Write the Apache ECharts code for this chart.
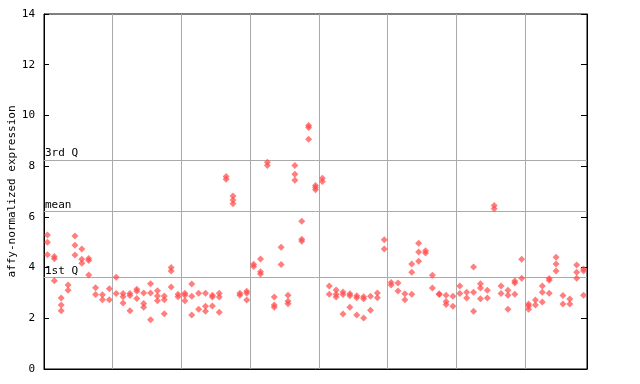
<!DOCTYPE html>
<html>
<head>
<meta charset="utf-8">
<script src="https://cdn.jsdelivr.net/npm/echarts@6/dist/echarts.min.js"></script>
<style>html,body{margin:0;padding:0;background:#fff}#c{width:640px;height:384px}</style>
</head>
<body>
<div id="c"></div>
<script>
// Expression values per sample (x position = sample index)
const expression = [
  [5.28, 5.00, 4.51], [4.44, 4.35, 3.48], [2.80, 2.52, 2.30], [3.31, 3.11], [5.25, 4.88, 4.50],
  [4.73, 4.33, 4.17], [4.36, 4.28, 3.71], [3.20, 2.94], [2.93, 2.73], [3.16, 2.73],
  [3.62, 2.98], [2.98, 2.85, 2.60], [2.98, 2.90, 2.30], [3.15, 3.07, 2.78], [3.00, 2.58, 2.44],
  [3.36, 3.00, 1.94], [3.09, 2.88, 2.69], [2.88, 2.73, 2.18], [4.00, 3.86, 3.23], [2.95, 2.85],
  [2.99, 2.91, 2.69], [3.35, 2.87, 2.13], [2.99, 2.36], [2.99, 2.47, 2.28], [2.91, 2.84, 2.48],
  [2.99, 2.84, 2.24], [7.59, 7.48], [6.82, 6.66, 6.52], [2.99, 2.91], [3.07, 2.99, 2.72],
  [4.13, 4.04], [4.34, 3.84, 3.75], [8.15, 8.03], [2.84, 2.52, 2.44], [4.80, 4.12],
  [2.91, 2.67, 2.57], [8.03, 7.68, 7.44], [5.83, 5.12, 5.04], [9.60, 9.52, 9.06], [7.24, 7.16, 7.07],
  [7.52, 7.39], [3.27, 2.95], [3.12, 2.95, 2.84], [3.04, 2.94, 2.17], [2.97, 2.89, 2.44],
  [2.89, 2.81, 2.13], [2.85, 2.77, 2.01], [2.87, 2.32], [3.00, 2.81], [5.10, 4.73],
  [3.41, 3.31], [3.39, 3.08], [2.97, 2.73], [4.14, 3.82, 2.95], [4.96, 4.61, 4.25],
  [4.66, 4.57], [3.70, 3.19], [2.97, 2.94], [2.91, 2.66, 2.54], [2.87, 2.47],
  [3.27, 2.98], [3.03, 2.80], [4.02, 3.03, 2.28], [3.36, 3.19, 2.77], [3.11, 2.80],
  [6.45, 6.32], [3.27, 2.98], [3.11, 2.91, 2.36], [3.47, 3.39, 2.95], [4.33, 3.58],
  [2.56, 2.48, 2.36], [2.72, 2.52], [3.27, 3.03, 2.64], [3.57, 3.50, 2.99], [4.41, 4.14, 3.86],
  [2.90, 2.56], [2.76, 2.56], [4.10, 3.82, 3.58], [3.94, 3.86, 2.91]
];
const sampleCount = 79;
const refValues = [8.24, 6.22, 3.62];
const refLabels = ['3rd Q', 'mean', '1st Q'];
const yMin = 0, yMax = 14, yStep = 2;
const yTitle = 'affy-normalized expression';

const points = [];
expression.forEach((vals, i) => vals.forEach(v => points.push([i + 0.5, v])));

const font = 'DejaVu Sans Mono';
const chart = echarts.init(document.getElementById('c'), null, {renderer: 'canvas'});
chart.setOption({
  animation: false,
  grid: {left: 44, right: 53, top: 14, bottom: 15, containLabel: false, outerBoundsMode: 'none',
         show: true, borderColor: '#000', borderWidth: 1},
  xAxis: {
    type: 'value', min: 0, max: sampleCount, interval: 10,
    axisLine: {show: true, lineStyle: {color: '#000'}},
    axisTick: {show: false}, axisLabel: {show: false},
    splitLine: {show: true, lineStyle: {color: '#aaaaaa', width: 1}}
  },
  yAxis: [{
    type: 'value', min: yMin, max: yMax, interval: yStep, position: 'left',
    name: yTitle, nameLocation: 'middle', nameGap: 26, nameRotate: 90, nameMoveOverlap: false,
    nameTextStyle: {fontFamily: font, fontSize: 11, color: '#000'},
    axisLine: {show: true, lineStyle: {color: '#000'}},
    axisTick: {show: true, inside: true, length: 5, lineStyle: {color: '#000'}},
    axisLabel: {fontFamily: font, fontSize: 11, color: '#000', margin: 9},
    splitLine: {show: false}
  }, {
    type: 'value', min: yMin, max: yMax, interval: yStep, position: 'right',
    axisLine: {show: true, lineStyle: {color: '#000'}},
    axisTick: {show: true, inside: true, length: 6, lineStyle: {color: '#000'}},
    axisLabel: {show: false}, splitLine: {show: false}
  }],
  series: [{
    type: 'scatter', data: points, symbol: 'diamond', symbolSize: 7,
    itemStyle: {color: '#ff4848', opacity: 0.7},
    z: 5,
    markLine: {
      silent: true, symbol: 'none', animation: false,
      lineStyle: {color: '#aaaaaa', width: 1, type: 'solid'},
      label: {show: true, position: 'insideStartTop', distance: [1, 1], formatter: p => p.name,
              fontFamily: font, fontSize: 11, color: '#000'},
      data: refValues.map((v, i) => ({yAxis: v, name: refLabels[i]}))
    }
  }]
});
</script>
</body>
</html>
